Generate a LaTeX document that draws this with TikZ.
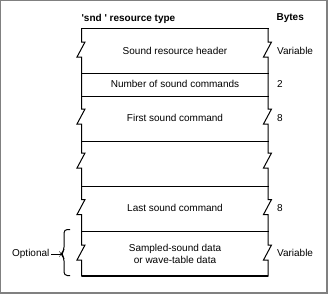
\documentclass[tikz,border=0pt]{standalone}
\usepackage{fontspec}
\setmainfont{Liberation Sans}
\usetikzlibrary{positioning}

\tikzset{
	rowtext/.style={font=\fontsize{7.5}{9}\selectfont, align=center, inner sep=1pt},
	bytetext/.style={font=\fontsize{7.5}{9}\selectfont, anchor=west, inner sep=1pt},
	headtext/.style={font=\fontsize{7.5}{9}\selectfont\bfseries, anchor=west, inner sep=1pt},
	boxline/.style={line width=0.75pt, line cap=rect},
}

\begin{document}
\begin{tikzpicture}[x=0.75pt, y=-0.75pt]
		\useasboundingbox (0,0) rectangle (328,294);
		\fill[gray] (0,0) rectangle (328,294);
		\fill[white] (1,1) rectangle (326,292);
		% headings
		\node[headtext] (title) at (80,19) {\textquotesingle snd\ \textquotesingle\ resource type};
		\node[headtext] (bytes) at (275,18) {Bytes};
		% outline of the resource, broken sides
		\foreach \x in {81.5,268}{\draw[boxline] (\x,28.7) \foreach \c in {49.5,116.5,160.5,207,252.5}{ -- (\x,{\c-7.5}) -- ++(3.5,0) -- ++(-8,15) -- ++(4.5,0)} -- (\x,276);}
		\foreach \y in {28.7,73.3,96.7,141.7,186,231}{\draw[boxline] (81.5,\y) -- (268,\y);}
		\draw[line width=1.5pt] (81.5,276) -- (268,276);
		% fields
		\node[rowtext] (hdr) at (175,50.5) {Sound resource header};
		\node[rowtext] (num) at (175,84) {Number of sound commands};
		\node[rowtext] (first) at (175,118) {First sound command};
		\node[rowtext] (last) at (175,208) {Last sound command};
		\node[rowtext] (data) at (175,254) {Sampled-sound data\\or wave-table data};
		% sizes
		\foreach \n/\y/\t in {bhdr/50.5/Variable,bnum/84/2,bfirst/118/8,blast/208/8,bdata/253/Variable}{\node[bytetext] (\n) at (275.5,\y) {\t};}
		% optional part
		\node[rowtext, anchor=east] (opt) at (51,254) {Optional};
		\coordinate (tip) at (61,254);
		\draw[boxline, line cap=butt, rounded corners=2.5pt] (70,229.5) -- (64,229.5) -- (64,250.5) -- (tip) -- (64,257.5) -- (64,275.5) -- (70,275.5);
		\draw[boxline, line cap=butt] (opt.east) -- (tip);
	\end{tikzpicture}
\end{document}
